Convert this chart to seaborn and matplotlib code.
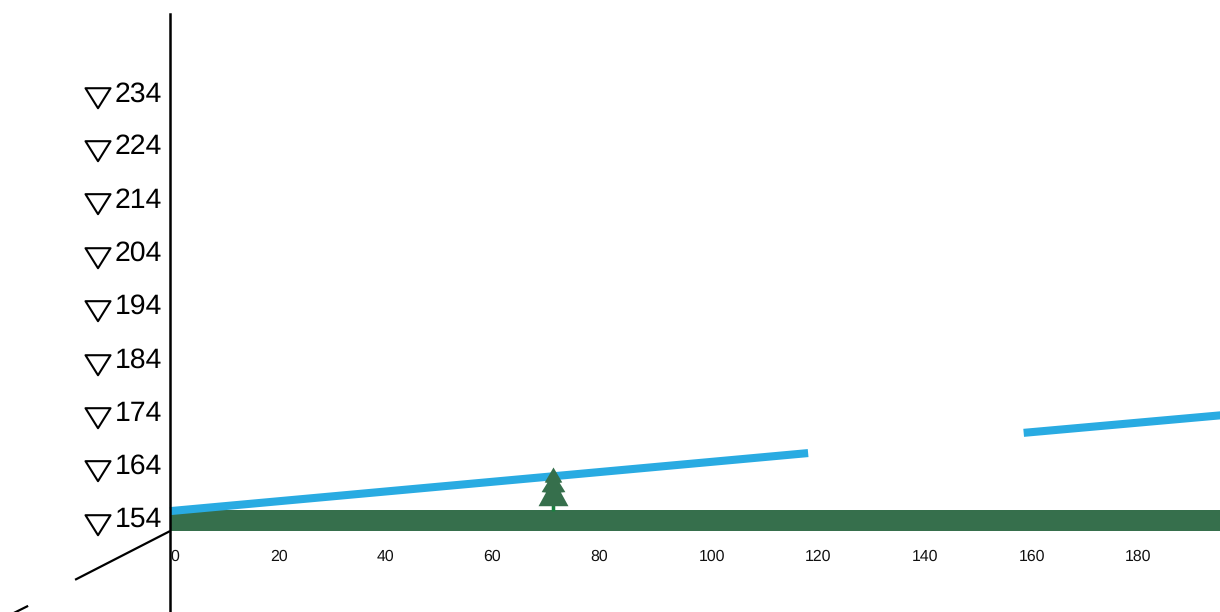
import matplotlib.pyplot as plt
import matplotlib.transforms as mtrans
import pandas as pd
import seaborn as sns
from matplotlib.path import Path

# values
y_ticks = [154, 164, 174, 184, 194, 204, 214, 224, 234]
x_ticks = [0, 20, 40, 60, 80, 100, 120, 140, 160, 180]

slope_a_x = [0, 119.6]
slope_a_y = [155.3, 166.2]
slope_b_x = [160, 197]
slope_b_y = [170.0, 173.3]

band_x = [0, 197]
band_low = [151.55, 151.55]
band_high = [155.5, 155.5]

diag_a_x = [0, -17.8]
diag_a_y = [151.55, 142.4]
diag_b_x = [-26.6, -30]
diag_b_y = [137.5, 135.8]

tree_x = [71.8]
tree_y = [155.3]
marker_x = [-13.5] * len(y_ticks)
marker_y = [152.65, 162.8, 172.75, 182.7, 192.85, 202.8, 212.95, 222.9, 232.85]

BLUE = "#29abe2"
GREEN = "#366f4c"

sns.set_theme(style="white")
plt.rcParams["font.family"] = ["Liberation Sans", "DejaVu Sans"]
plt.rcParams["text.hinting"] = "no_hinting"

fig = plt.figure(figsize=(12.2, 6.12), dpi=100)
ax = fig.add_axes([0, 0, 1, 1])
ax.set_xlim(-31.87, 196.8)
ax.set_ylim(136.35, 251.3)
ax.patch.set_alpha(0)

ax.fill_between(band_x, band_low, band_high, color=GREEN, lw=0, zorder=2)

for xs, ys in [(slope_a_x, slope_a_y), (slope_b_x, slope_b_y)]:
    sns.lineplot(x=xs, y=ys, ax=ax, color=BLUE, lw=5.8, solid_capstyle="butt", zorder=3)

for xs, ys in [(diag_a_x, diag_a_y), (diag_b_x, diag_b_y)]:
    sns.lineplot(x=xs, y=ys, ax=ax, color="black", lw=1.6, sort=False,
                 solid_capstyle="butt", zorder=3)

# tree drawn as two custom markers anchored on its base
foliage = Path([(0, 1), (-0.2, 0.66), (-0.14, 0.65), (-0.27, 0.44), (-0.17, 0.43),
                (-0.34, 0.12), (0.34, 0.12), (0.17, 0.43), (0.27, 0.44), (0.14, 0.65),
                (0.2, 0.66), (0, 1)], closed=True)
trunk = Path([(-0.04, 0), (0.04, 0), (0.04, 0.5), (0, 1), (-0.04, 0.5), (-0.04, 0)], closed=True)
tree_df = pd.DataFrame({"x": tree_x, "y": tree_y})
sns.scatterplot(data=tree_df, x="x", y="y", ax=ax, marker=trunk, s=4014,
                color="#1a8040", linewidth=0, zorder=4)
sns.scatterplot(data=tree_df, x="x", y="y", ax=ax, marker=foliage, s=4014,
                color=GREEN, linewidth=0, zorder=5)

# hollow triangles beside the y labels
tri = Path([(-1, 0.8), (1, 0.8), (0, -0.8), (-1, 0.8)], closed=True)
ax.scatter(marker_x, marker_y, marker=tri, s=324, facecolor="none",
           edgecolor="black", linewidth=1.5, zorder=3)

for side in ["top", "right", "bottom"]:
    ax.spines[side].set_visible(False)
ax.spines["left"].set_position(("data", 0))
ax.spines["left"].set_bounds(136.35, 248.7)
ax.spines["left"].set_linewidth(1.8)
ax.spines["left"].set_color("black")
ax.spines["left"].set_zorder(6)

ax.set_yticks(y_ticks)
ax.set_yticklabels([str(v) for v in y_ticks])
ax.tick_params(axis="y", length=0, pad=5.5, labelsize=20.4, labelcolor="black")
for label in ax.get_yticklabels():
    label.set_transform(label.get_transform()
                        + mtrans.ScaledTranslation(0, 1.0 / 100, fig.dpi_scale_trans))

ax.set_xticks(x_ticks)
ax.set_xticklabels([str(v) for v in x_ticks])
ax.spines["bottom"].set_position(("data", 146.65))
ax.tick_params(axis="x", length=0, pad=0, labelsize=11.4, labelcolor="#111111")
for value, label in zip(x_ticks, ax.get_xticklabels()):
    # the labels hang from their left edge, not their centre
    dx = 0 if value == 0 else (-5.2 if value >= 100 else -7.0)
    label.set_ha("left")
    label.set_va("center")
    label.set_transform(label.get_transform()
                        + mtrans.ScaledTranslation(dx / 100, 0, fig.dpi_scale_trans))

ax.set_xlabel("")
ax.set_ylabel("")

fig.savefig("out.png", dpi=100)
